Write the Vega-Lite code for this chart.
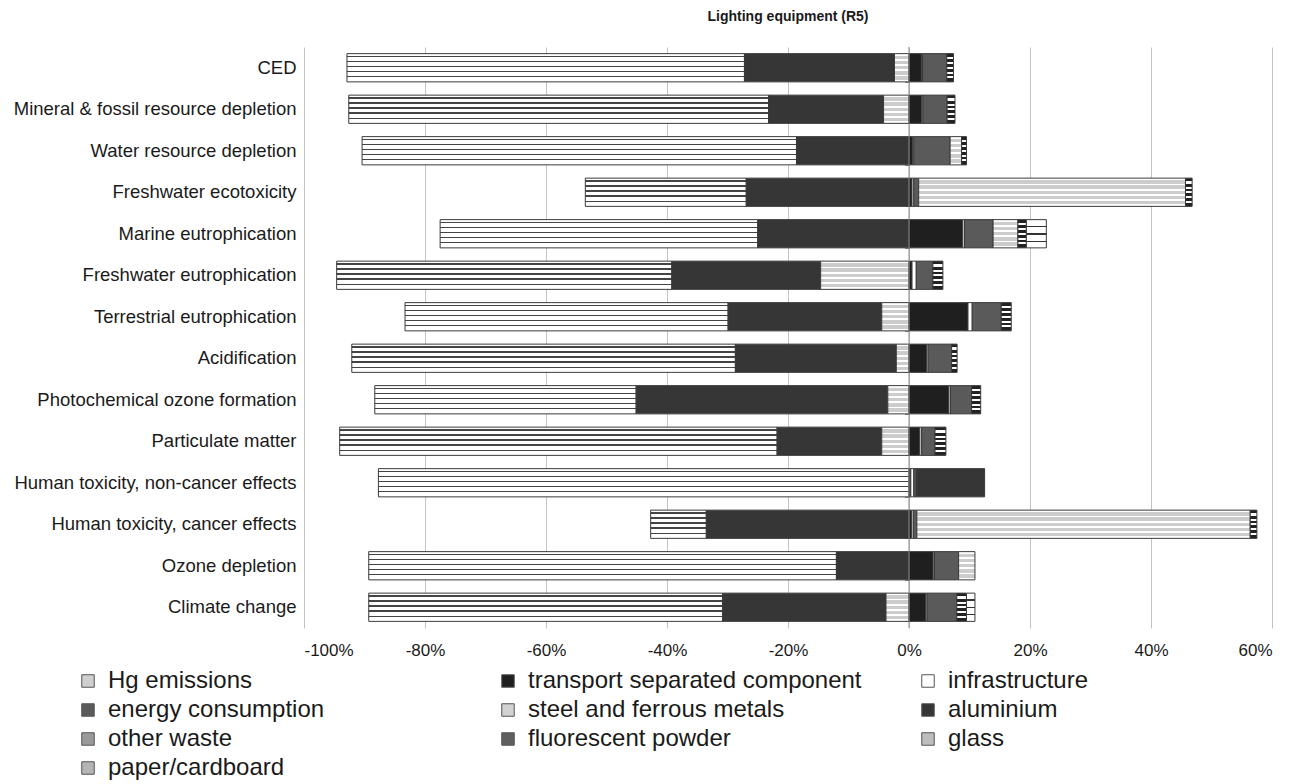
{
  "$schema": "https://vega.github.io/schema/vega-lite/v6.json",
  "width": 968,
  "height": 581,
  "autosize": {"type": "none"},
  "padding": {"left": 304, "top": 47, "right": 32, "bottom": 156},
  "background": "white",
  "config": {"font": "Liberation Sans", "view": {"stroke": null}},
  "title": {"text": "Lighting equipment (R5)", "fontSize": 14, "fontWeight": "bold", "color": "#1a1a1a", "anchor": "middle", "offset": 23, "font": "Liberation Sans"},
  "datasets": {
    "components": [
      {"component": "Hg emissions", "n": 1},
      {"component": "transport separated component", "n": 2},
      {"component": "infrastructure", "n": 3},
      {"component": "energy consumption", "n": 4},
      {"component": "steel and ferrous metals", "n": 5},
      {"component": "aluminium", "n": 6},
      {"component": "other waste", "n": 7},
      {"component": "fluorescent powder", "n": 8},
      {"component": "glass", "n": 9},
      {"component": "paper/cardboard", "n": 10}
    ],
    "impacts": [
      {"category": "CED", "component": "glass", "value": -65.7},
      {"category": "CED", "component": "aluminium", "value": -24.8},
      {"category": "CED", "component": "steel and ferrous metals", "value": -2.4},
      {"category": "CED", "component": "transport separated component", "value": 2.05},
      {"category": "CED", "component": "infrastructure", "value": 0.2},
      {"category": "CED", "component": "energy consumption", "value": 4.0},
      {"category": "CED", "component": "fluorescent powder", "value": 1.1},

      {"category": "Mineral & fossil resource depletion", "component": "glass", "value": -69.4},
      {"category": "Mineral & fossil resource depletion", "component": "aluminium", "value": -19.0},
      {"category": "Mineral & fossil resource depletion", "component": "steel and ferrous metals", "value": -4.2},
      {"category": "Mineral & fossil resource depletion", "component": "transport separated component", "value": 2.1},
      {"category": "Mineral & fossil resource depletion", "component": "infrastructure", "value": 0.2},
      {"category": "Mineral & fossil resource depletion", "component": "energy consumption", "value": 4.0},
      {"category": "Mineral & fossil resource depletion", "component": "fluorescent powder", "value": 1.3},

      {"category": "Water resource depletion", "component": "glass", "value": -71.8},
      {"category": "Water resource depletion", "component": "aluminium", "value": -18.6},
      {"category": "Water resource depletion", "component": "transport separated component", "value": 0.6},
      {"category": "Water resource depletion", "component": "infrastructure", "value": 0.2},
      {"category": "Water resource depletion", "component": "energy consumption", "value": 6.0},
      {"category": "Water resource depletion", "component": "steel and ferrous metals", "value": 1.9},
      {"category": "Water resource depletion", "component": "fluorescent powder", "value": 0.8},

      {"category": "Freshwater ecotoxicity", "component": "glass", "value": -26.6},
      {"category": "Freshwater ecotoxicity", "component": "aluminium", "value": -26.9},
      {"category": "Freshwater ecotoxicity", "component": "transport separated component", "value": 0.5},
      {"category": "Freshwater ecotoxicity", "component": "infrastructure", "value": 0.3},
      {"category": "Freshwater ecotoxicity", "component": "energy consumption", "value": 0.8},
      {"category": "Freshwater ecotoxicity", "component": "steel and ferrous metals", "value": 44.1},
      {"category": "Freshwater ecotoxicity", "component": "fluorescent powder", "value": 1.1},

      {"category": "Marine eutrophication", "component": "glass", "value": -52.5},
      {"category": "Marine eutrophication", "component": "aluminium", "value": -25.0},
      {"category": "Marine eutrophication", "component": "transport separated component", "value": 8.9},
      {"category": "Marine eutrophication", "component": "infrastructure", "value": 0.3},
      {"category": "Marine eutrophication", "component": "energy consumption", "value": 4.7},
      {"category": "Marine eutrophication", "component": "steel and ferrous metals", "value": 4.1},
      {"category": "Marine eutrophication", "component": "fluorescent powder", "value": 1.4},
      {"category": "Marine eutrophication", "component": "paper/cardboard", "value": 3.3},

      {"category": "Freshwater eutrophication", "component": "glass", "value": -55.4},
      {"category": "Freshwater eutrophication", "component": "aluminium", "value": -24.6},
      {"category": "Freshwater eutrophication", "component": "steel and ferrous metals", "value": -14.6},
      {"category": "Freshwater eutrophication", "component": "transport separated component", "value": 0.5},
      {"category": "Freshwater eutrophication", "component": "infrastructure", "value": 0.7},
      {"category": "Freshwater eutrophication", "component": "energy consumption", "value": 2.75},
      {"category": "Freshwater eutrophication", "component": "fluorescent powder", "value": 1.65},

      {"category": "Terrestrial eutrophication", "component": "glass", "value": -53.4},
      {"category": "Terrestrial eutrophication", "component": "aluminium", "value": -25.4},
      {"category": "Terrestrial eutrophication", "component": "steel and ferrous metals", "value": -4.5},
      {"category": "Terrestrial eutrophication", "component": "transport separated component", "value": 9.75},
      {"category": "Terrestrial eutrophication", "component": "infrastructure", "value": 0.7},
      {"category": "Terrestrial eutrophication", "component": "energy consumption", "value": 4.8},
      {"category": "Terrestrial eutrophication", "component": "fluorescent powder", "value": 1.65},

      {"category": "Acidification", "component": "glass", "value": -63.4},
      {"category": "Acidification", "component": "aluminium", "value": -26.6},
      {"category": "Acidification", "component": "steel and ferrous metals", "value": -2.1},
      {"category": "Acidification", "component": "transport separated component", "value": 2.9},
      {"category": "Acidification", "component": "infrastructure", "value": 0.25},
      {"category": "Acidification", "component": "energy consumption", "value": 3.9},
      {"category": "Acidification", "component": "fluorescent powder", "value": 0.9},

      {"category": "Photochemical ozone formation", "component": "glass", "value": -43.2},
      {"category": "Photochemical ozone formation", "component": "aluminium", "value": -41.6},
      {"category": "Photochemical ozone formation", "component": "steel and ferrous metals", "value": -3.5},
      {"category": "Photochemical ozone formation", "component": "transport separated component", "value": 6.6},
      {"category": "Photochemical ozone formation", "component": "infrastructure", "value": 0.25},
      {"category": "Photochemical ozone formation", "component": "energy consumption", "value": 3.5},
      {"category": "Photochemical ozone formation", "component": "fluorescent powder", "value": 1.5},

      {"category": "Particulate matter", "component": "glass", "value": -72.3},
      {"category": "Particulate matter", "component": "aluminium", "value": -17.3},
      {"category": "Particulate matter", "component": "steel and ferrous metals", "value": -4.5},
      {"category": "Particulate matter", "component": "transport separated component", "value": 1.8},
      {"category": "Particulate matter", "component": "infrastructure", "value": 0.3},
      {"category": "Particulate matter", "component": "energy consumption", "value": 2.2},
      {"category": "Particulate matter", "component": "fluorescent powder", "value": 1.8},

      {"category": "Human toxicity, non-cancer effects", "component": "glass", "value": -87.7},
      {"category": "Human toxicity, non-cancer effects", "component": "transport separated component", "value": 0.3},
      {"category": "Human toxicity, non-cancer effects", "component": "infrastructure", "value": 0.5},
      {"category": "Human toxicity, non-cancer effects", "component": "energy consumption", "value": 0.4},
      {"category": "Human toxicity, non-cancer effects", "component": "aluminium", "value": 11.3},

      {"category": "Human toxicity, cancer effects", "component": "glass", "value": -9.2},
      {"category": "Human toxicity, cancer effects", "component": "aluminium", "value": -33.5},
      {"category": "Human toxicity, cancer effects", "component": "transport separated component", "value": 0.4},
      {"category": "Human toxicity, cancer effects", "component": "infrastructure", "value": 0.3},
      {"category": "Human toxicity, cancer effects", "component": "energy consumption", "value": 0.6},
      {"category": "Human toxicity, cancer effects", "component": "steel and ferrous metals", "value": 55.1},
      {"category": "Human toxicity, cancer effects", "component": "fluorescent powder", "value": 1.1},

      {"category": "Ozone depletion", "component": "glass", "value": -77.3},
      {"category": "Ozone depletion", "component": "aluminium", "value": -12.0},
      {"category": "Ozone depletion", "component": "transport separated component", "value": 4.0},
      {"category": "Ozone depletion", "component": "infrastructure", "value": 0.2},
      {"category": "Ozone depletion", "component": "energy consumption", "value": 4.0},
      {"category": "Ozone depletion", "component": "steel and ferrous metals", "value": 2.7},

      {"category": "Climate change", "component": "glass", "value": -58.5},
      {"category": "Climate change", "component": "aluminium", "value": -27.0},
      {"category": "Climate change", "component": "steel and ferrous metals", "value": -3.8},
      {"category": "Climate change", "component": "transport separated component", "value": 2.8},
      {"category": "Climate change", "component": "infrastructure", "value": 0.2},
      {"category": "Climate change", "component": "energy consumption", "value": 4.9},
      {"category": "Climate change", "component": "fluorescent powder", "value": 1.6},
      {"category": "Climate change", "component": "paper/cardboard", "value": 1.4}
    ]
  },
  "data": {"name": "impacts"},
  "resolve": {"axis": {"y": "independent"}},
  "layer": [
    {
      "transform": [
        {"lookup": "component", "from": {"data": {"name": "components"}, "key": "component", "fields": ["n"]}}
      ],
      "mark": {"type": "bar", "stroke": "#3a3a3a", "strokeWidth": 1},
      "encoding": {
        "y": {
          "field": "category", "type": "nominal",
          "sort": ["CED", "Mineral & fossil resource depletion", "Water resource depletion", "Freshwater ecotoxicity", "Marine eutrophication", "Freshwater eutrophication", "Terrestrial eutrophication", "Acidification", "Photochemical ozone formation", "Particulate matter", "Human toxicity, non-cancer effects", "Human toxicity, cancer effects", "Ozone depletion", "Climate change"],
          "scale": {"paddingInner": 0.32, "paddingOuter": 0.16},
          "axis": {"title": null, "domain": false, "ticks": false, "labelFontSize": 18.5, "labelColor": "#1a1a1a", "labelPadding": 8, "labelLimit": 400, "labelFont": "Liberation Sans"}
        },
        "x": {
          "field": "value", "type": "quantitative", "stack": "zero",
          "scale": {"domain": [-100, 60], "nice": false},
          "axis": {"values": [-100, -80, -60, -40, -20, 0, 20, 40, 60], "labelExpr": "datum.value + '%'", "title": null, "domain": false, "ticks": false, "labelFontSize": 17, "labelColor": "#1a1a1a", "labelPadding": 14, "grid": true, "gridColor": "#c4c4c4", "gridWidth": 1, "labelFont": "Liberation Sans"}
        },
        "order": {"field": "n", "type": "quantitative", "sort": "ascending"},
        "fill": {
          "field": "component", "type": "nominal",
          "scale": {
            "domain": ["Hg emissions", "transport separated component", "infrastructure", "energy consumption", "steel and ferrous metals", "aluminium", "other waste", "fluorescent powder", "glass", "paper/cardboard"],
            "range": ["#d0d0d0", "#1f1f1f", "#ffffff", "#5a5a5a", "#d2d2d2", "#363636", "#9a9a9a", "#5e5e5e", "#bdbdbd", "#b4b4b4"]
          },
          "legend": {
            "orient": "none", "legendX": -228, "legendY": 622, "columns": 3, "direction": "horizontal", "title": null,
            "symbolType": "square", "symbolSize": 156, "symbolStrokeColor": "#555555", "symbolStrokeWidth": 1, "symbolOpacity": 1,
            "labelFontSize": 24, "labelColor": "#1a1a1a", "labelOffset": 8, "labelLimit": 500, "labelFont": "Liberation Sans",
            "columnPadding": 54, "rowPadding": 5, "gridAlign": "all", "padding": 0
          },
          "condition": [
            {"test": "datum.component === 'glass'", "value": {"gradient": "linear", "x1": 0, "y1": 0, "x2": 0, "y2": 1, "stops": [
              {"offset": 0, "color": "#ffffff"}, {"offset": 0.08, "color": "#ffffff"}, {"offset": 0.08, "color": "#444444"}, {"offset": 0.125, "color": "#444444"}, {"offset": 0.125, "color": "#ffffff"},
              {"offset": 0.255, "color": "#ffffff"}, {"offset": 0.255, "color": "#444444"}, {"offset": 0.3, "color": "#444444"}, {"offset": 0.3, "color": "#ffffff"},
              {"offset": 0.435, "color": "#ffffff"}, {"offset": 0.435, "color": "#444444"}, {"offset": 0.48, "color": "#444444"}, {"offset": 0.48, "color": "#ffffff"},
              {"offset": 0.615, "color": "#ffffff"}, {"offset": 0.615, "color": "#444444"}, {"offset": 0.66, "color": "#444444"}, {"offset": 0.66, "color": "#ffffff"},
              {"offset": 0.795, "color": "#ffffff"}, {"offset": 0.795, "color": "#444444"}, {"offset": 0.84, "color": "#444444"}, {"offset": 0.84, "color": "#ffffff"},
              {"offset": 1, "color": "#ffffff"}]}},
            {"test": "datum.component === 'fluorescent powder'", "value": {"gradient": "linear", "x1": 0, "y1": 0, "x2": 0, "y2": 1, "stops": [
              {"offset": 0, "color": "#222222"}, {"offset": 0.11, "color": "#222222"}, {"offset": 0.11, "color": "#ffffff"}, {"offset": 0.19, "color": "#ffffff"}, {"offset": 0.19, "color": "#222222"},
              {"offset": 0.3, "color": "#222222"}, {"offset": 0.3, "color": "#ffffff"}, {"offset": 0.37, "color": "#ffffff"}, {"offset": 0.37, "color": "#222222"},
              {"offset": 0.47, "color": "#222222"}, {"offset": 0.47, "color": "#ffffff"}, {"offset": 0.54, "color": "#ffffff"}, {"offset": 0.54, "color": "#222222"},
              {"offset": 0.64, "color": "#222222"}, {"offset": 0.64, "color": "#ffffff"}, {"offset": 0.71, "color": "#ffffff"}, {"offset": 0.71, "color": "#222222"},
              {"offset": 0.81, "color": "#222222"}, {"offset": 0.81, "color": "#ffffff"}, {"offset": 0.88, "color": "#ffffff"}, {"offset": 0.88, "color": "#222222"},
              {"offset": 1, "color": "#222222"}]}},
            {"test": "datum.component === 'steel and ferrous metals'", "value": {"gradient": "linear", "x1": 0, "y1": 0, "x2": 0, "y2": 1, "stops": [
              {"offset": 0, "color": "#ffffff"}, {"offset": 0.08, "color": "#ffffff"}, {"offset": 0.08, "color": "#cccccc"}, {"offset": 0.2, "color": "#cccccc"}, {"offset": 0.2, "color": "#ffffff"},
              {"offset": 0.26, "color": "#ffffff"}, {"offset": 0.26, "color": "#cccccc"}, {"offset": 0.38, "color": "#cccccc"}, {"offset": 0.38, "color": "#ffffff"},
              {"offset": 0.44, "color": "#ffffff"}, {"offset": 0.44, "color": "#cccccc"}, {"offset": 0.56, "color": "#cccccc"}, {"offset": 0.56, "color": "#ffffff"},
              {"offset": 0.62, "color": "#ffffff"}, {"offset": 0.62, "color": "#cccccc"}, {"offset": 0.74, "color": "#cccccc"}, {"offset": 0.74, "color": "#ffffff"},
              {"offset": 0.8, "color": "#ffffff"}, {"offset": 0.8, "color": "#cccccc"}, {"offset": 0.92, "color": "#cccccc"}, {"offset": 0.92, "color": "#ffffff"},
              {"offset": 1, "color": "#ffffff"}]}},
            {"test": "datum.component === 'paper/cardboard'", "value": {"gradient": "linear", "x1": 0, "y1": 0, "x2": 0, "y2": 1, "stops": [
              {"offset": 0, "color": "#ffffff"}, {"offset": 0.22, "color": "#ffffff"}, {"offset": 0.22, "color": "#333333"}, {"offset": 0.27, "color": "#333333"}, {"offset": 0.27, "color": "#ffffff"},
              {"offset": 0.48, "color": "#ffffff"}, {"offset": 0.48, "color": "#333333"}, {"offset": 0.53, "color": "#333333"}, {"offset": 0.53, "color": "#ffffff"},
              {"offset": 0.74, "color": "#ffffff"}, {"offset": 0.74, "color": "#333333"}, {"offset": 0.79, "color": "#333333"}, {"offset": 0.79, "color": "#ffffff"},
              {"offset": 1, "color": "#ffffff"}]}}
          ]
        }
      }
    },
    {
      "data": {"values": [{"zero": 0}]},
      "mark": {"type": "rule", "color": "#8a8a8a", "strokeWidth": 1},
      "encoding": {
        "x": {"field": "zero", "type": "quantitative"}
      }
    },
    {
      "mark": {"type": "point", "opacity": 0},
      "encoding": {
        "y": {
          "field": "category", "type": "nominal",
          "sort": ["CED", "Mineral & fossil resource depletion", "Water resource depletion", "Freshwater ecotoxicity", "Marine eutrophication", "Freshwater eutrophication", "Terrestrial eutrophication", "Acidification", "Photochemical ozone formation", "Particulate matter", "Human toxicity, non-cancer effects", "Human toxicity, cancer effects", "Ozone depletion", "Climate change"],
          "axis": {"orient": "left", "offset": -605.5, "title": null, "labels": false, "domain": false, "ticks": true, "tickBand": "extent", "tickSize": 5, "tickColor": "#8a8a8a", "tickWidth": 1}
        },
        "x": {"datum": 0, "type": "quantitative"}
      }
    }
  ]
}
